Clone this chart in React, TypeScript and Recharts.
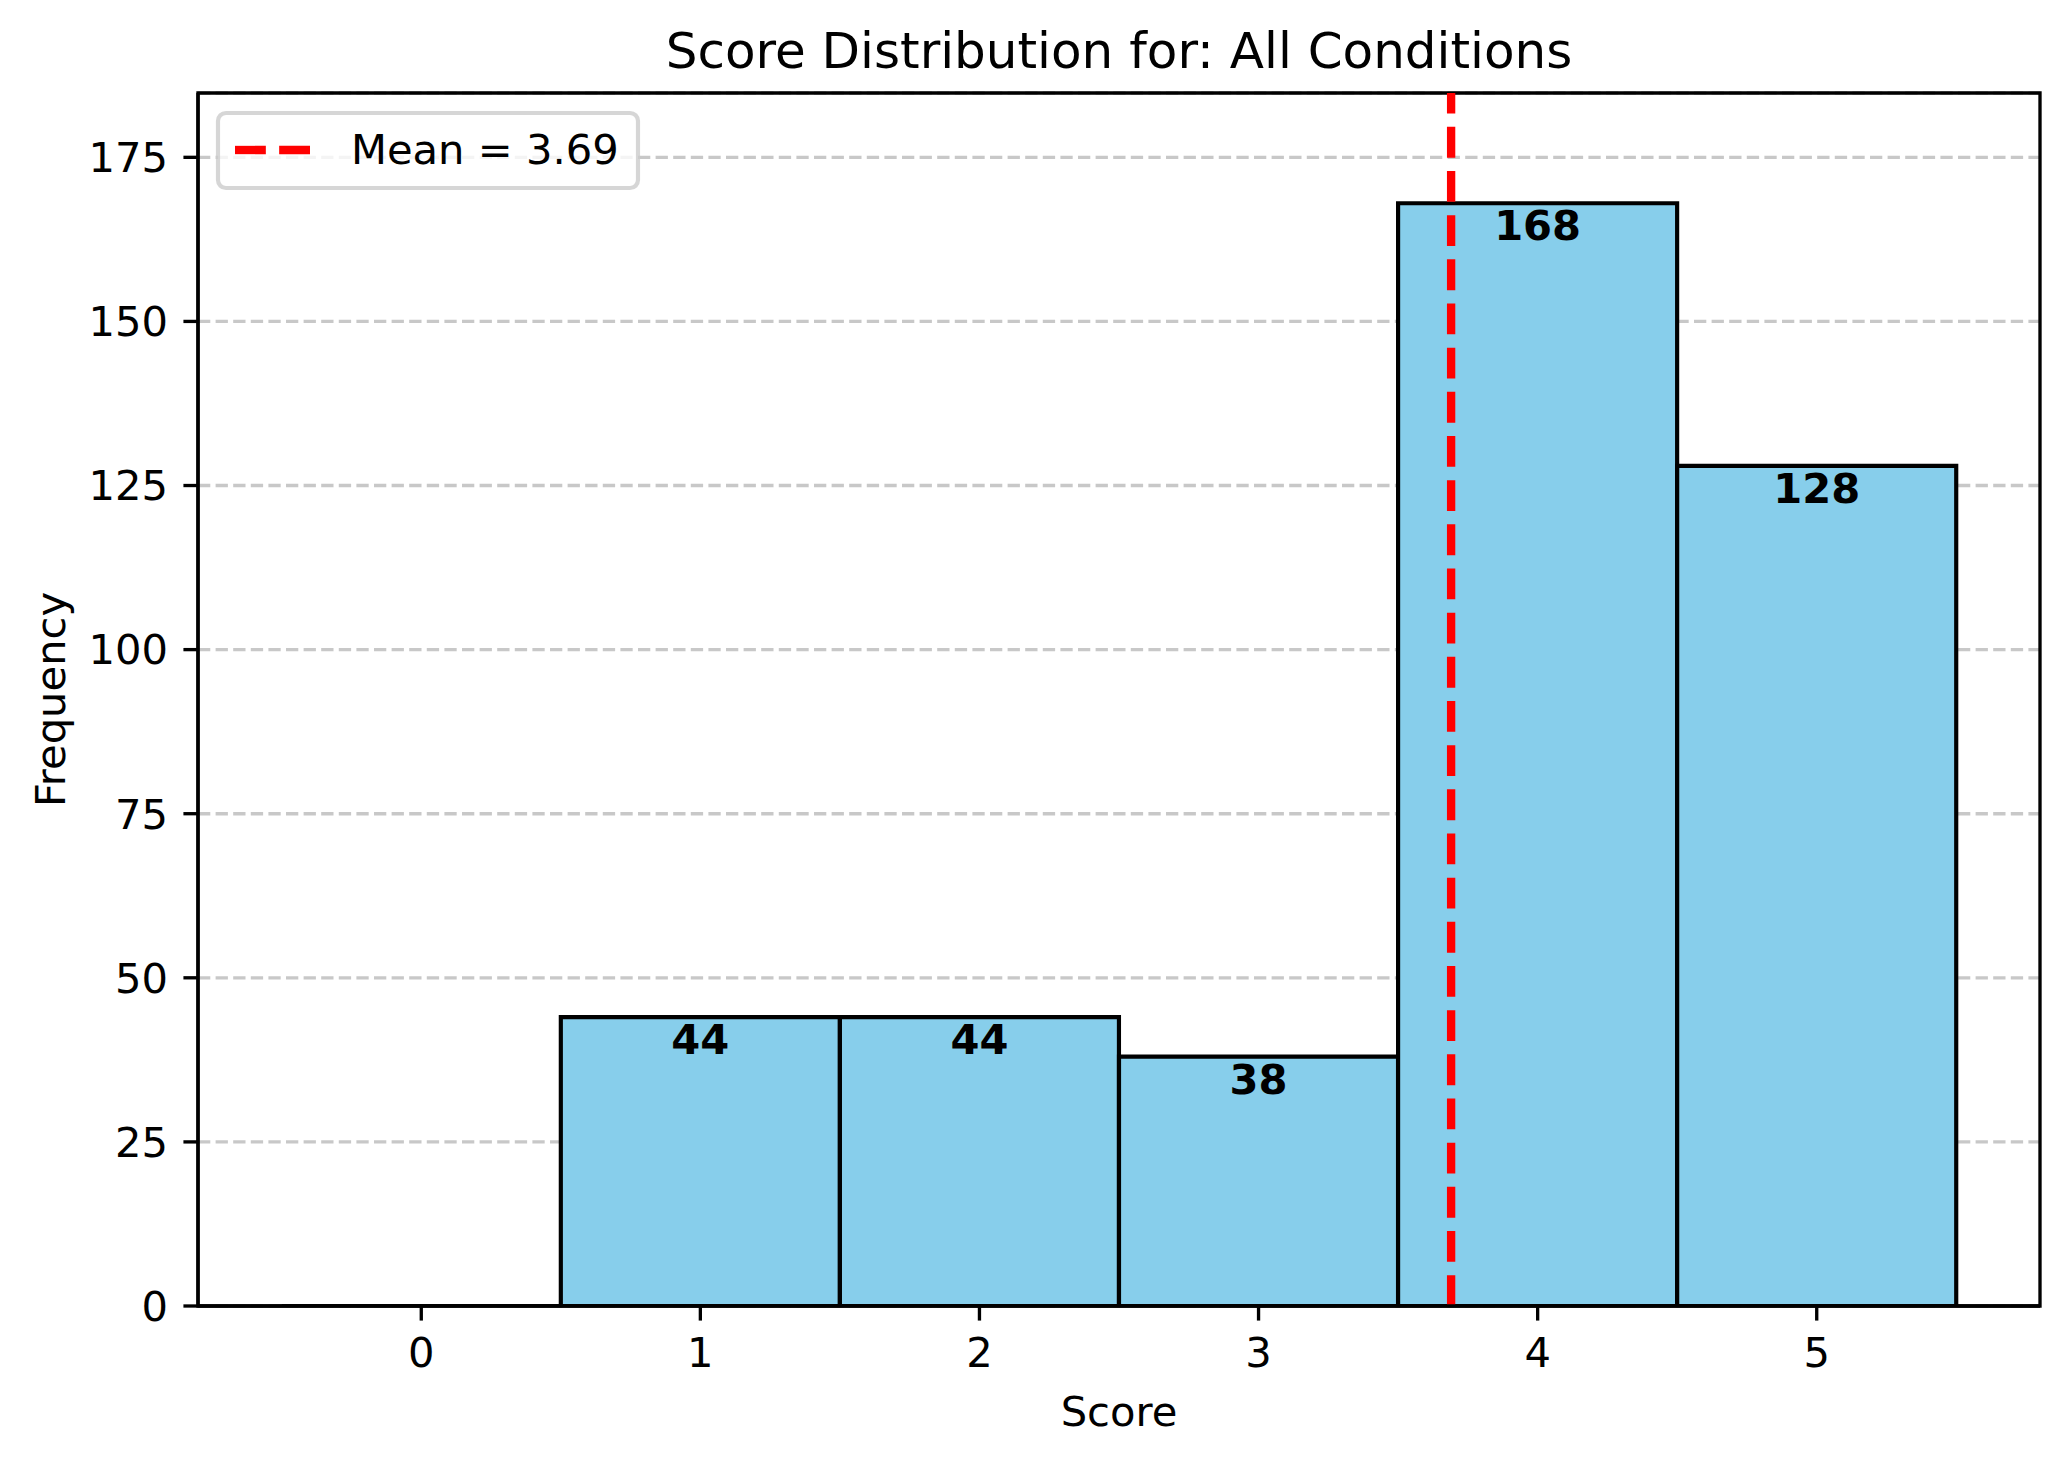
import React from 'react';
import {
  ComposedChart,
  Bar,
  XAxis,
  YAxis,
  CartesianGrid,
  ReferenceLine,
  ReferenceArea,
  LabelList,
} from 'recharts';

// histogram of scores
const SCORES = [0, 1, 2, 3, 4, 5];
const FREQUENCIES = [0, 44, 44, 38, 168, 128];
const MEAN_SCORE = 3.69;
const Y_TICKS = [0, 25, 50, 75, 100, 125, 150, 175];
const X_TICKS = [0, 1, 2, 3, 4, 5];

const W = 2070;
const H = 1466;
const MARGIN = { top: 93, right: 30, bottom: 0, left: 0 };
const Y_AXIS_W = 198;
const X_AXIS_H = 160;
const PLOT_W = W - MARGIN.left - MARGIN.right - Y_AXIS_W;
const X_DOMAIN = [-0.8, 5.8];
const Y_DOMAIN = [0, 184.8];

const FONT = '"DejaVu Sans", sans-serif';
const FS = 41.67;
const PT = 300 / 72;

const data = SCORES.map((s, i) => ({ score: s, count: FREQUENCIES[i] }));

// rect as a path so a zero-height bin still draws its edge
function HistBar(props: any) {
  const { x, y, width, height } = props;
  const x0 = Number(x);
  const y0 = Number(y);
  const w = Number(width);
  const h = Number(height) || 0;
  const d = `M${x0},${y0 + h}L${x0},${y0}L${x0 + w},${y0}L${x0 + w},${y0 + h}Z`;
  return <path d={d} fill="#87CEEB" stroke="#000" strokeWidth={PT} />;
}

function BarValue(props: any) {
  const { x, y, width, value } = props;
  if (!value) return null;
  return (
    <text
      x={Number(x) + Number(width) / 2}
      y={Number(y) + 37}
      textAnchor="middle"
      fontFamily={FONT}
      fontWeight="bold"
      fontSize={FS}
      fill="#000"
    >
      {value}
    </text>
  );
}

export default function App() {
  const tickStyle = { fontFamily: FONT, fontSize: FS, fill: '#000' };
  const axisLine = { stroke: '#000', strokeWidth: 0.8 * PT };
  const tickLine = { stroke: '#000', strokeWidth: 0.8 * PT };
  const legendText = `Mean = ${MEAN_SCORE.toFixed(2)}`;

  return (
    <div style={{ position: 'absolute', left: 0, top: 0, width: W, height: H, background: '#fff' }}>
      <ComposedChart width={W} height={H} data={data} margin={MARGIN}>
        <CartesianGrid
          vertical={false}
          stroke="#b0b0b0"
          strokeOpacity={0.7}
          strokeWidth={0.8 * PT}
          strokeDasharray="12.3 5.3"
        />
        <XAxis
          dataKey="score"
          type="number"
          domain={X_DOMAIN}
          ticks={X_TICKS}
          allowDataOverflow
          height={X_AXIS_H}
          tick={tickStyle}
          tickSize={3.5 * PT}
          tickMargin={16.8}
          axisLine={axisLine}
          tickLine={tickLine}
          label={{
            value: 'Score',
            position: 'insideBottom',
            offset: 40,
            style: { fontFamily: FONT, fontSize: FS, fill: '#000' },
          }}
        />
        <YAxis
          type="number"
          domain={Y_DOMAIN}
          ticks={Y_TICKS}
          allowDataOverflow
          width={Y_AXIS_W}
          tick={tickStyle}
          tickSize={3.5 * PT}
          tickMargin={15.4}
          axisLine={axisLine}
          tickLine={tickLine}
          label={{
            value: 'Frequency',
            angle: -90,
            position: 'insideLeft',
            offset: 50,
            style: { fontFamily: FONT, fontSize: FS, fill: '#000', textAnchor: 'middle' },
          }}
        />
        <Bar
          dataKey="count"
          barSize={PLOT_W / 6.6 - 0.05}
          shape={(p: any) => <HistBar {...p} />}
          isAnimationActive={false}
        >
          <LabelList dataKey="count" content={(p: any) => <BarValue {...p} />} />
        </Bar>
        <ReferenceLine
          x={MEAN_SCORE}
          stroke="#ff0000"
          strokeWidth={2 * PT}
          strokeDasharray={`${3.7 * 2 * PT} ${1.6 * 2 * PT}`}
        />
        {/* axes frame (top and right spines) */}
        <ReferenceArea
          x1={X_DOMAIN[0]}
          x2={X_DOMAIN[1]}
          y1={Y_DOMAIN[0]}
          y2={Y_DOMAIN[1]}
          fill="none"
          fillOpacity={0}
          stroke="#000"
          strokeWidth={0.8 * PT}
          ifOverflow="visible"
        />
      </ComposedChart>
      <svg
        width={W}
        height={H}
        style={{ position: 'absolute', left: 0, top: 0, pointerEvents: 'none' }}
      >
        <text
          x={MARGIN.left + Y_AXIS_W + PLOT_W / 2}
          y={68}
          textAnchor="middle"
          fontFamily={FONT}
          fontSize={12 * PT}
          fill="#000"
        >
          Score Distribution for: All Conditions
        </text>
        <rect
          x={218}
          y={113}
          width={420}
          height={75}
          rx={8}
          fill="#fff"
          fillOpacity={0.8}
          stroke="#cccccc"
          strokeOpacity={0.8}
          strokeWidth={PT}
        />
        <line
          x1={235}
          x2={318}
          y1={150}
          y2={150}
          stroke="#ff0000"
          strokeWidth={2 * PT}
          strokeDasharray={`${3.7 * 2 * PT} ${1.6 * 2 * PT}`}
        />
        <text x={351} y={164} fontFamily={FONT} fontSize={FS} fill="#000">
          {legendText}
        </text>
      </svg>
    </div>
  );
}
